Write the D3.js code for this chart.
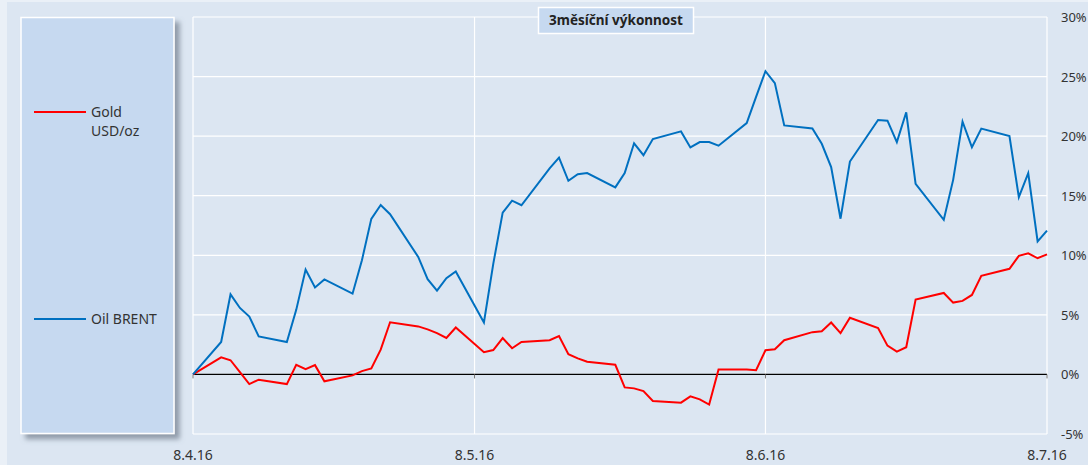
<!DOCTYPE html>
<html>
<head>
<meta charset="utf-8">
<script src="https://cdn.jsdelivr.net/npm/d3@7"></script>
<style>
	body { margin: 0; background: #eaf0f7; }
	svg { display: block; }
	text { font-family: "Noto Sans", sans-serif; fill: #333; }
</style>
</head>
<body>
<div id="chart"></div>
<script>
// trading days 8.4.16 - 8.7.16
var dates = [
	"2016-04-08","2016-04-11","2016-04-12","2016-04-13","2016-04-14","2016-04-15",
	"2016-04-18","2016-04-19","2016-04-20","2016-04-21","2016-04-22",
	"2016-04-25","2016-04-26","2016-04-27","2016-04-28","2016-04-29",
	"2016-05-02","2016-05-03","2016-05-04","2016-05-05","2016-05-06",
	"2016-05-09","2016-05-10","2016-05-11","2016-05-12","2016-05-13",
	"2016-05-16","2016-05-17","2016-05-18","2016-05-19","2016-05-20",
	"2016-05-23","2016-05-24","2016-05-25","2016-05-26","2016-05-27",
	"2016-05-30","2016-05-31","2016-06-01","2016-06-02","2016-06-03",
	"2016-06-06","2016-06-07","2016-06-08","2016-06-09","2016-06-10",
	"2016-06-13","2016-06-14","2016-06-15","2016-06-16","2016-06-17",
	"2016-06-20","2016-06-21","2016-06-22","2016-06-23","2016-06-24",
	"2016-06-27","2016-06-28","2016-06-29","2016-06-30","2016-07-01",
	"2016-07-04","2016-07-05","2016-07-06","2016-07-07","2016-07-08"
];

var gold = [
	0, 1.44, 1.19, 0.2, -0.81, -0.44,
	-0.81, 0.81, 0.45, 0.78, -0.58,
	-0.08, 0.28, 0.5, 2.08, 4.38,
	4.03, 3.78, 3.47, 3.06, 3.94,
	1.87, 2.05, 3.05, 2.2, 2.72,
	2.87, 3.22, 1.7, 1.35, 1.06,
	0.81, -1.09, -1.17, -1.4, -2.23,
	-2.37, -1.84, -2.09, -2.53, 0.42,
	0.42, 0.36, 2.03, 2.12, 2.87,
	3.55, 3.63, 4.36, 3.47, 4.75,
	3.9, 2.42, 1.92, 2.28, 6.28,
	6.84, 6.03, 6.17, 6.67, 8.28,
	8.87, 9.95, 10.17, 9.75, 10.08
];

var oil = [
	0, 2.72, 6.72, 5.58, 4.86, 3.19,
	2.72, 5.42, 8.8, 7.3, 7.97,
	6.78, 9.58, 13.06, 14.22, 13.45,
	9.86, 8.0, 7.03, 8.08, 8.64,
	4.36, 9.3, 13.58, 14.58, 14.2,
	17.3, 18.2, 16.25, 16.8, 16.9,
	15.7, 16.9, 19.4, 18.4, 19.75,
	20.4, 19.05, 19.5, 19.5, 19.2,
	21.1, 23.3, 25.45, 24.45, 20.9,
	20.65, 19.36, 17.4, 13.07, 17.87,
	21.36, 21.3, 19.5, 22.0, 16.0,
	12.98, 16.33, 21.22, 19.07, 20.63,
	20.0, 14.88, 16.9, 11.17, 12.07
];

var xTickDates = ["2016-04-08","2016-05-08","2016-06-08","2016-07-08"];
var xTickLabels = ["8.4.16","8.5.16","8.6.16","8.7.16"];
var yTicks = [-5, 0, 5, 10, 15, 20, 25, 30];

var seriesNames = [["Gold","USD/oz"], ["Oil BRENT"]];
var seriesColors = ["#ff0000", "#0070c0"];

var width = 1088, height = 465;
var parse = d3.timeParse("%Y-%m-%d");

var svg = d3.select("#chart").append("svg")
	.attr("width", width)
	.attr("height", height);

var defs = svg.append("defs");
var shadow = defs.append("filter").attr("id", "shadow")
	.attr("x", "-10%").attr("y", "-5%").attr("width", "130%").attr("height", "115%");
shadow.append("feDropShadow")
	.attr("dx", 5).attr("dy", 5).attr("stdDeviation", 2.5)
	.attr("flood-color", "#6f7b8a").attr("flood-opacity", 0.7);

// panel background
svg.append("rect")
	.attr("x", 7).attr("y", 2)
	.attr("width", width - 7).attr("height", height - 2)
	.attr("fill", "#dce6f2");

var x = d3.scaleTime()
	.domain([parse(dates[0]), parse(dates[dates.length - 1])])
	.range([193, 1047]);
var y = d3.scaleLinear().domain([-5, 30]).range([434, 17]);

// grid
var grid = svg.append("g").attr("class", "grid");
grid.selectAll(".hgrid")
	.data(yTicks)
	.enter().append("line")
	.attr("x1", x.range()[0]).attr("x2", x.range()[1])
	.attr("y1", d => y(d)).attr("y2", d => y(d))
	.attr("stroke", "#ffffff").attr("stroke-width", 1.2);
grid.selectAll(".vgrid")
	.data(xTickDates)
	.enter().append("line")
	.attr("x1", d => x(parse(d))).attr("x2", d => x(parse(d)))
	.attr("y1", y(30)).attr("y2", y(-5))
	.attr("stroke", "#ffffff").attr("stroke-width", 1.2);

// zero line + small ticks
svg.append("line")
	.attr("x1", x.range()[0]).attr("x2", x.range()[1])
	.attr("y1", y(0)).attr("y2", y(0))
	.attr("stroke", "#000").attr("stroke-width", 1.2);
svg.selectAll(".ztick")
	.data(xTickDates)
	.enter().append("line")
	.attr("x1", d => x(parse(d))).attr("x2", d => x(parse(d)))
	.attr("y1", y(0)).attr("y2", y(0) + 4)
	.attr("stroke", "#777").attr("stroke-width", 1);

// lines
var line = d3.line()
	.x((d, i) => x(parse(dates[i])))
	.y(d => y(d));

[gold, oil].forEach(function(s, i) {
	svg.append("path")
		.datum(s)
		.attr("fill", "none")
		.attr("stroke", seriesColors[i])
		.attr("stroke-width", 2)
		.attr("stroke-linejoin", "miter")
		.attr("d", line);
});

// x labels
svg.selectAll(".xlab")
	.data(xTickDates)
	.enter().append("text")
	.attr("x", d => x(parse(d)))
	.attr("y", 460)
	.attr("text-anchor", "middle")
	.style("font-size", "14px")
	.text((d, i) => xTickLabels[i]);

// y labels (right side)
svg.selectAll(".ylab")
	.data(yTicks)
	.enter().append("text")
	.attr("x", 1061)
	.attr("y", d => y(d) + 5)
	.style("font-size", "13px")
	.text(d => d + "%");

// title box
var title = svg.append("g");
title.append("rect")
	.attr("x", 538.5).attr("y", 7.5)
	.attr("width", 155).attr("height", 26)
	.attr("fill", "#c6d9f0").attr("stroke", "#ffffff").attr("stroke-width", 1.5);
title.append("text")
	.attr("x", 616).attr("y", 25)
	.attr("text-anchor", "middle")
	.style("font-size", "13.5px").style("font-weight", "bold")
	.style("fill", "#222")
	.text("3měsíční výkonnost");

// legend
var legend = svg.append("g");
legend.append("rect")
	.attr("x", 21).attr("y", 17.5)
	.attr("width", 153).attr("height", 416)
	.attr("fill", "#c6d9f0").attr("stroke", "#ffffff").attr("stroke-width", 1.5)
	.attr("filter", "url(#shadow)");

var legendY = [112, 319];
seriesNames.forEach(function(name, i) {
	legend.append("line")
		.attr("x1", 34).attr("x2", 86)
		.attr("y1", legendY[i]).attr("y2", legendY[i])
		.attr("stroke", seriesColors[i]).attr("stroke-width", 2);
	name.forEach(function(t, j) {
		legend.append("text")
			.attr("x", 91)
			.attr("y", legendY[i] + 5 + j * 19)
			.style("font-size", "14px")
			.text(t);
	});
});
</script>
</body>
</html>
